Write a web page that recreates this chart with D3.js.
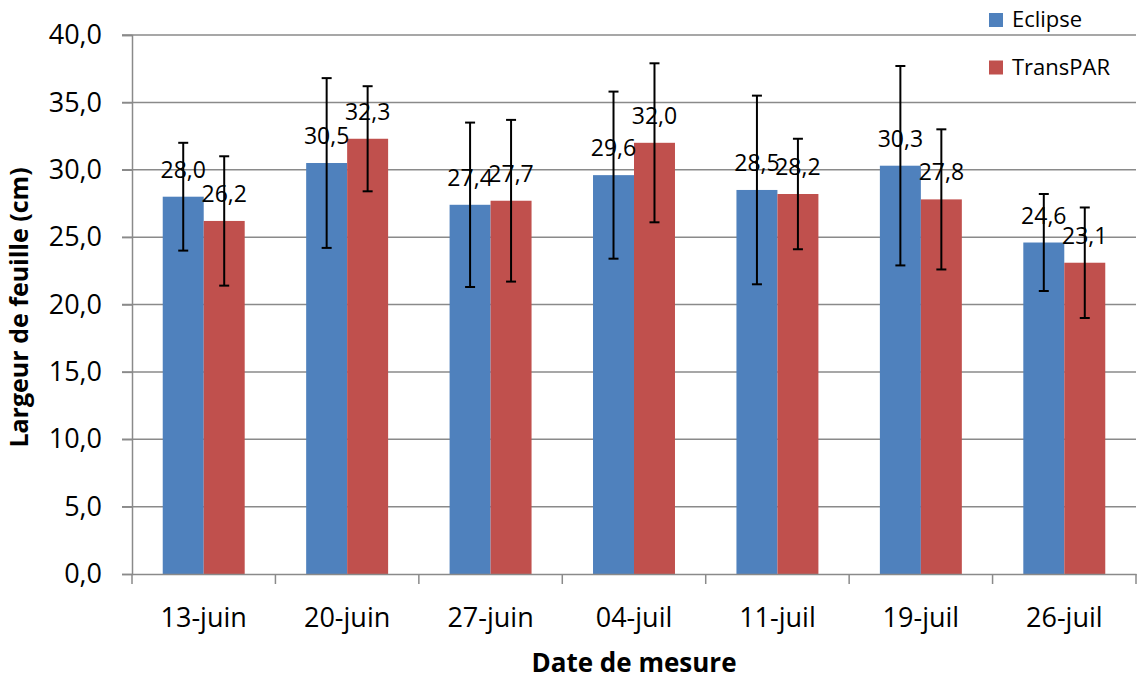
<!DOCTYPE html>
<html>
<head>
<meta charset="utf-8">
<script src="https://cdn.jsdelivr.net/npm/d3@7"></script>
<style>
  html, body { margin: 0; padding: 0; background: #fff; }
  svg { display: block; font-family: "Open Sans", "Noto Sans", sans-serif; }
</style>
</head>
<body>
<svg id="chart" width="1137" height="686"></svg>
<script>
const categories = ["13-juin", "20-juin", "27-juin", "04-juil", "11-juil", "19-juil", "26-juil"];
const seriesNames = ["Eclipse", "TransPAR"];
const eclipse = [28.0, 30.5, 27.4, 29.6, 28.5, 30.3, 24.6];
const transpar = [26.2, 32.3, 27.7, 32.0, 28.2, 27.8, 23.1];
const eclipseErr = [4.0, 6.3, 6.1, 6.2, 7.0, 7.4, 3.6];
const transparErr = [4.8, 3.9, 6.0, 5.9, 4.1, 5.2, 4.1];
const yTicks = [0, 5, 10, 15, 20, 25, 30, 35, 40];
const colors = ["#4F81BD", "#C0504D"];

(function () {
const svg = d3.select("#chart");
const mLeft = 132, mRight = 1136, mTop = 35, mBottom = 574;
const gridColor = "#8a8a8a";
const fmt = v => d3.format(".1f")(v).replace(".", ",");

const x = d3.scaleBand().domain(categories).range([mLeft, mRight]).padding(0);
const xs = d3.scaleBand().domain(seriesNames).range([0, x.bandwidth()]).paddingInner(0).paddingOuter(0.75);
const y = d3.scaleLinear().domain([0, 40]).range([mBottom, mTop]);

// gridlines
svg.append("g").selectAll("line").data(yTicks.filter(d => d > 0)).join("line")
  .attr("x1", mLeft - 10).attr("x2", mRight).attr("y1", d => y(d)).attr("y2", d => y(d))
  .attr("stroke", gridColor).attr("stroke-width", 1.5);

// y axis
const yAxis = svg.append("g").attr("transform", `translate(${mLeft},0)`)
  .call(d3.axisLeft(y).tickValues(yTicks).tickFormat(fmt).tickSize(10).tickPadding(20));
yAxis.select(".domain").attr("stroke", gridColor).attr("stroke-width", 1.5);
yAxis.selectAll(".tick line").attr("stroke", gridColor).attr("stroke-width", 1.5);
yAxis.selectAll(".tick text").attr("font-size", 27).attr("fill", "#000")
  .attr("font-family", "'Open Sans', sans-serif");

// bars
const data = categories.map((c, i) => ({
  cat: c,
  vals: [
    { s: "Eclipse", v: eclipse[i], e: eclipseErr[i], c: colors[0] },
    { s: "TransPAR", v: transpar[i], e: transparErr[i], c: colors[1] }
  ]
}));

const groups = svg.append("g").selectAll("g").data(data).join("g")
  .attr("transform", d => `translate(${x(d.cat)},0)`);

groups.selectAll("rect").data(d => d.vals).join("rect")
  .attr("x", d => xs(d.s)).attr("width", xs.bandwidth())
  .attr("y", d => y(d.v)).attr("height", d => y(0) - y(d.v))
  .attr("fill", d => d.c);

// x axis
const xAxis = svg.append("g").attr("transform", `translate(0,${mBottom})`)
  .call(d3.axisBottom(x).tickSize(0).tickPadding(34));
xAxis.select(".domain").attr("stroke", gridColor).attr("stroke-width", 1.5);
xAxis.selectAll(".tick text").attr("font-size", 27).attr("fill", "#000")
  .attr("font-family", "'Open Sans', sans-serif");
const bounds = categories.map(c => x(c)).concat([x(categories[categories.length - 1]) + x.bandwidth()]);
svg.append("g").selectAll("line").data(bounds).join("line")
  .attr("x1", d => d).attr("x2", d => d).attr("y1", mBottom).attr("y2", mBottom + 10)
  .attr("stroke", gridColor).attr("stroke-width", 1.5);

// data labels
groups.selectAll("text.lbl").data(d => d.vals).join("text").attr("class", "lbl")
  .attr("x", d => xs(d.s) + xs.bandwidth() / 2)
  .attr("y", d => y(d.v) - 19)
  .attr("text-anchor", "middle").attr("font-size", 23).attr("fill", "#000")
  .text(d => fmt(d.v));

// error bars
const eb = groups.selectAll("g.err").data(d => d.vals).join("g").attr("class", "err")
  .attr("stroke", "#000").attr("stroke-width", 2);
const cx = d => xs(d.s) + xs.bandwidth() / 2;
eb.append("line").attr("x1", cx).attr("x2", cx)
  .attr("y1", d => y(d.v + d.e)).attr("y2", d => y(d.v - d.e));
eb.append("line").attr("x1", d => cx(d) - 5).attr("x2", d => cx(d) + 5)
  .attr("y1", d => y(d.v + d.e)).attr("y2", d => y(d.v + d.e));
eb.append("line").attr("x1", d => cx(d) - 5).attr("x2", d => cx(d) + 5)
  .attr("y1", d => y(d.v - d.e)).attr("y2", d => y(d.v - d.e));

// axis titles
svg.append("text").attr("x", (mLeft + mRight) / 2).attr("y", 672)
  .attr("text-anchor", "middle").attr("font-size", 26).attr("font-weight", "bold")
  .text("Date de mesure");
svg.append("text").attr("transform", `translate(28,${(mTop + mBottom) / 2 + 3}) rotate(-90)`)
  .attr("text-anchor", "middle").attr("font-size", 25).attr("font-weight", "bold")
  .text("Largeur de feuille (cm)");

// legend
const legend = svg.append("g").selectAll("g").data(seriesNames).join("g")
  .attr("transform", (d, i) => `translate(989,${13 + i * 47.5})`);
legend.append("rect").attr("width", 14).attr("height", 14).attr("fill", (d, i) => colors[i]);
legend.append("text").attr("x", 23).attr("y", 14).attr("font-size", 22).attr("fill", "#000")
  .text(d => d);
})();
</script>
</body>
</html>
